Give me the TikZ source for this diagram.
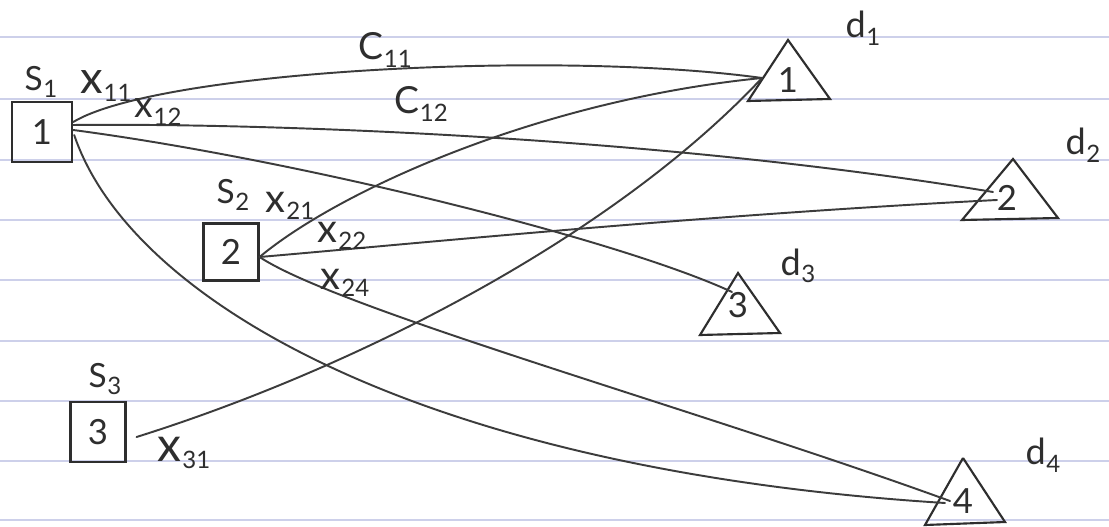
\documentclass[tikz,border=0pt]{standalone}
\usepackage{fontspec}
\setmainfont{Lato}
\usetikzlibrary{calc}
\definecolor{ink}{HTML}{2E2E2E}
\definecolor{pencil}{HTML}{3C3C3C}
\definecolor{ruleblue}{HTML}{CDD0EA}
\newcommand{\lab}[3][25]{{\fontsize{#1}{#1}\selectfont #2}\kern0.5pt\raisebox{-0.22em}{\fontsize{18}{20}\selectfont #3}}
\begin{document}
\begin{tikzpicture}[x=0.75pt,y=-0.75pt,
  every node/.style={text=ink, font=\fontsize{26}{30}\selectfont},
  src/.style={draw=ink, line width=1.8pt, inner sep=0pt},
  tri/.style={draw=ink, line width=1.6pt, line join=miter},
  lbl/.style={inner sep=1pt},
  edge/.style={draw=pencil, line width=1.45pt, line cap=round}]
\fill[white] (0,0) rectangle (1109,527);
\useasboundingbox (0,0) rectangle (1109,527);
% ruled paper
\foreach \yy in {37,99,160,220,280,341,401,461,520}
  \draw[ruleblue, line width=0.8pt] (0,\yy) -- (1109,\yy);

% sources
\node[src, minimum width=45pt, minimum height=45pt] (s1) at (42,132) {1};
\node[src, minimum width=41pt, minimum height=43pt] (s2) at (231,252) {2};
\node[src, minimum width=41pt, minimum height=45pt] (s3) at (98,432) {3};

% destinations (triangles)
\draw[tri] (788,40) -- (748,101) -- (830,99) -- cycle;
\node (t1) at (788,80) {1};
\draw[tri] (1013,159) -- (962,220) -- (1058,218) -- cycle;
\node (t2) at (1007,198) {2};
\draw[tri] (738,273) -- (700,335) -- (780,333) -- cycle;
\node (t3) at (738,305) {3};
\draw[tri] (963,458) -- (925,525) -- (1005,522) -- (963,458);
\node (t4) at (963,501) {4};

\coordinate (d1in) at (762,78);
\coordinate (d2ina) at (993,192);
\coordinate (d2inb) at (997,200);
\coordinate (d3in) at (732,292);
\coordinate (d4ina) at (945,503);
\coordinate (d4inb) at (950,501);

% connectors
\draw[edge] ($(s1.east)+(0,-10)$) .. controls (160,70) and (560,50) .. (d1in);
\draw[edge] ($(s1.east)+(0,-7)$) .. controls (250,123) and (650,135) .. (d2ina);
\draw[edge] ($(s1.east)+(0,-2)$) .. controls (300,160) and (620,240) .. (d3in);
\draw[edge] ($(s1.east)+(1,3)$) .. controls (130,300) and (420,470) .. (d4ina);
\draw[edge] ($(s2.east)+(0,5)$) .. controls (340,190) and (540,100) .. (d1in);
\draw[edge] ($(s2.east)+(0,5)$) .. controls (400,245) and (700,215) .. (d2inb);
\draw[edge] ($(s2.east)+(0,5)$) .. controls (340,310) and (700,410) .. (d4inb);
\draw[edge] ($(s3.east)+(10,5)$) .. controls (350,370) and (610,240) .. (d1in);

% labels
\node[lbl] (ls1) at (41,82) {\lab{S}{1}};
\node[lbl] (ls2) at (233,195) {\lab{S}{2}};
\node[lbl] (ls3) at (105,379) {\lab{S}{3}};
\node[lbl] (ld1) at (863,28) {\lab[27]{d}{1}};
\node[lbl] (ld2) at (1083,145) {\lab[27]{d}{2}};
\node[lbl] (ld3) at (798,266) {\lab[27]{d}{3}};
\node[lbl] (ld4) at (1043,455) {\lab[27]{d}{4}};
\node[lbl] (lx11) at (106,86) {\lab[34]{x}{11}};
\node[lbl] (lx12) at (158,112) {\lab[28]{x}{12}};
\node[lbl] (lc11) at (385,50) {\lab[28]{C}{11}};
\node[lbl] (lc12) at (421,104) {\lab[28]{C}{12}};
\node[lbl] (lx21) at (290,206) {\lab[30]{x}{21}};
\node[lbl] (lx22) at (342,236) {\lab[30]{x}{22}};
\node[lbl] (lx24) at (345,283) {\lab[30]{x}{24}};
\node[lbl] (lx31) at (184,453) {\lab[36]{x}{31}};
\end{tikzpicture}
\end{document}
